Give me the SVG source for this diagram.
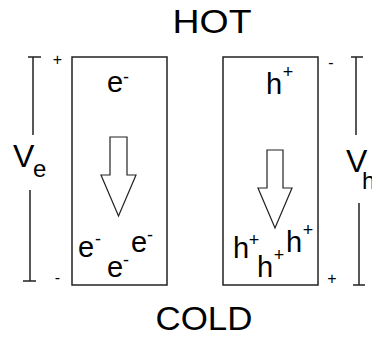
<svg xmlns="http://www.w3.org/2000/svg" width="372" height="340" viewBox="0 0 372 340">
<style>
.t{font-family:"Liberation Sans",Arial,sans-serif;fill:#000}
.box{fill:none;stroke:#222;stroke-width:1.5}
.ln{fill:none;stroke:#222;stroke-width:1.5}
.arr{fill:#fff;stroke:#222;stroke-width:1.2;stroke-linejoin:miter}
.big{font-size:34px}
.q{font-size:29px}
.s{font-size:18px}
.sm{font-size:16px}
</style>
<rect width="372" height="340" fill="#fff"/>
<g id="hot"><text class="t big" x="212" y="33" text-anchor="middle" textLength="79" lengthAdjust="spacingAndGlyphs">HOT</text></g>
<g id="cold"><text class="t big" x="204" y="330" text-anchor="middle" textLength="97" lengthAdjust="spacingAndGlyphs">COLD</text></g>
<g id="electron-leg">
<rect class="box" x="72" y="57" width="95" height="228"/>
<text class="t q" x="107" y="92">e</text><text class="t s" x="123" y="83">-</text>
<text class="t q" x="78" y="257">e</text><text class="t s" x="95" y="245">-</text>
<text class="t q" x="131" y="252">e</text><text class="t s" x="147" y="241">-</text>
<text class="t q" x="107" y="277">e</text><text class="t s" x="123" y="266">-</text>
</g>
<g id="hole-leg">
<rect class="box" x="223" y="57" width="95" height="228"/>
<text class="t q" x="266" y="94">h</text><text class="t s" x="288" y="78" text-anchor="middle">+</text>
<text class="t q" x="233" y="258">h</text><text class="t s" x="254" y="246" text-anchor="middle">+</text>
<text class="t q" x="257" y="277">h</text><text class="t s" x="279" y="261" text-anchor="middle">+</text>
<text class="t q" x="286" y="252">h</text><text class="t s" x="308" y="236" text-anchor="middle">+</text>
</g>
<g id="ve">
<text class="t" font-size="32" x="13" y="167">V</text>
<text class="t" font-size="24" x="33" y="177">e</text>
<text class="t sm" x="57.5" y="65" text-anchor="middle">+</text>
<text class="t sm" x="57.5" y="283" text-anchor="middle">-</text>
</g>
<g id="vh">
<text class="t" font-size="32" x="346" y="172">V</text>
<text class="t" font-size="24" x="362" y="189">h</text>
<text class="t sm" x="331" y="68" text-anchor="middle">-</text>
<text class="t sm" x="332" y="284" text-anchor="middle">+</text>
</g>
<g id="connectors">
<polygon class="arr" points="110,137 127,137 127,175 136,175 118.5,216 101,175 110,175"/>
<polygon class="arr" points="267,150 283,150 283,188 292,188 275,228 258,188 267,188"/>
<path class="ln" d="M28,57H41M33,57V135M30,190V281M23,281H36"/>
<path class="ln" d="M351,57H363M356,57V135M359,203V285M353,285H365"/>
</g>
</svg>
